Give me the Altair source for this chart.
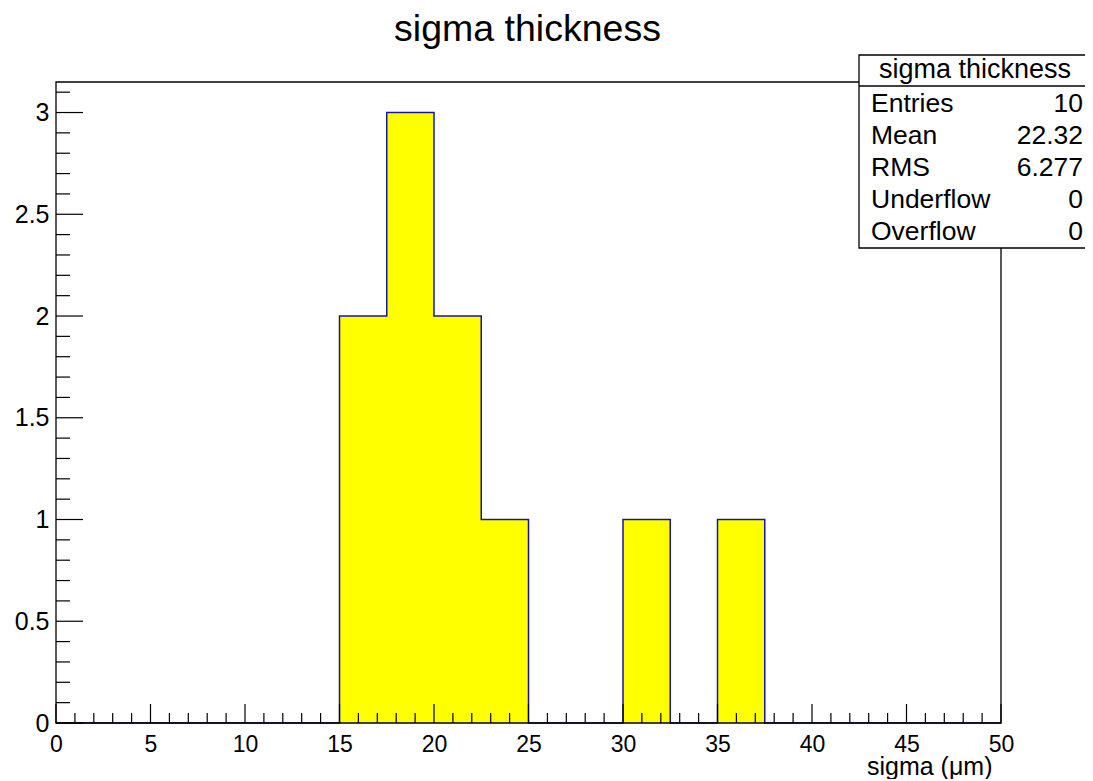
import altair as alt
import pandas as pd

# ---- data ----
bin_edges = [0, 2.5, 5, 7.5, 10, 12.5, 15, 17.5, 20, 22.5, 25,
             27.5, 30, 32.5, 35, 37.5, 40, 42.5, 45, 47.5, 50]
bin_counts = [0, 0, 0, 0, 0, 0, 2, 3, 2, 1, 0, 0, 1, 0, 1, 0, 0, 0, 0, 0]

x_major = [0, 5, 10, 15, 20, 25, 30, 35, 40, 45, 50]
y_major = [0, 0.5, 1, 1.5, 2, 2.5, 3]

stat_title = "sigma thickness"
stat_names = ["Entries", "Mean", "RMS", "Underflow", "Overflow"]
stat_values = ["10", "22.32", "6.277", "0", "0"]

title_text = "sigma thickness"
x_title = "sigma (\u03bcm)"

# ---- layout ----
W, H = 945, 641
FONT = "Liberation Sans"
LINE_BLUE = "#1414b4"

x_minor = [i for i in range(0, 51) if i % 5 != 0]
y_minor = [round(i / 10, 1) for i in range(0, 32) if i % 5 != 0]

hist = pd.DataFrame({"x": bin_edges, "n": bin_counts + [bin_counts[-1]]})

xs = alt.Scale(domain=[0, 50], nice=False, zero=False)
ys = alt.Scale(domain=[0, 3.15], nice=False, zero=False)

area = alt.Chart(hist).mark_area(
    interpolate="step-after", color="#ffff00", opacity=1,
    line={"color": LINE_BLUE, "strokeWidth": 1.5},
).encode(
    x=alt.X("x:Q", scale=xs, axis=alt.Axis(
        values=x_major, ticks=False, tickSize=0, domain=False, grid=False,
        labelFont=FONT, labelFontSize=23, labelColor="black", labelPadding=10,
        labelFlush=False, labelOverlap=False,
        title=x_title, titleFont=FONT, titleFontSize=25, titleFontWeight="normal",
        titleColor="black", titleX=936, titleY=51, titleAlign="right",
        titleBaseline="alphabetic", titleAnchor="end")),
    y=alt.Y("n:Q", scale=ys, axis=alt.Axis(
        values=y_major, format="~g", ticks=False, tickSize=0, domain=False, grid=False,
        labelFont=FONT, labelFontSize=25, labelColor="black", labelPadding=7,
        title=None)),
)

def xticks(vals, length):
    return alt.Chart(pd.DataFrame({"v": vals})).mark_rule(color="black", strokeWidth=1.2).encode(
        x=alt.X("v:Q", scale=xs), y=alt.value(H), y2=alt.value(H - length))

def yticks(vals, length):
    return alt.Chart(pd.DataFrame({"v": vals})).mark_rule(color="black", strokeWidth=1.2).encode(
        y=alt.Y("v:Q", scale=ys), x=alt.value(0), x2=alt.value(length))

one = pd.DataFrame({"a": [0]})

frame = alt.Chart(one).mark_rect(fill=None, stroke="black", strokeWidth=1.3).encode(
    x=alt.value(0), x2=alt.value(W), y=alt.value(0), y2=alt.value(H))

box = alt.Chart(one).mark_rect(fill="white", stroke="black", strokeWidth=1.3).encode(
    x=alt.value(803), x2=alt.value(1045), y=alt.value(-27), y2=alt.value(166))
sep = alt.Chart(one).mark_rule(color="black", strokeWidth=1.3).encode(
    x=alt.value(803), x2=alt.value(1045), y=alt.value(4))

stats = pd.DataFrame({"head": [stat_title],
                      "names": ["\n".join(stat_names)],
                      "vals": ["\n".join(stat_values)],
                      "title": [title_text]})
title_txt = alt.Chart(stats).mark_text(font=FONT, fontSize=37.5, color="black",
                                       align="center", baseline="alphabetic").encode(
    text="title:N", x=alt.value(W / 2 - 1), y=alt.value(-41))
head_txt = alt.Chart(stats).mark_text(font=FONT, fontSize=27, color="black",
                                      align="center", baseline="middle").encode(
    text="head:N", x=alt.value(919), y=alt.value(-12))
name_txt = alt.Chart(stats).mark_text(font=FONT, fontSize=26.5, color="black", align="left",
                                      baseline="alphabetic", lineBreak="\n", lineHeight=32).encode(
    text="names:N", x=alt.value(815), y=alt.value(30))
val_txt = alt.Chart(stats).mark_text(font=FONT, fontSize=26.5, color="black", align="right",
                                     baseline="alphabetic", lineBreak="\n", lineHeight=32).encode(
    text="vals:N", x=alt.value(1027), y=alt.value(30))

chart = alt.layer(
    area,
    xticks(x_minor, 10), xticks(x_major, 19),
    yticks(y_minor, 14), yticks(y_major, 27),
    frame, box, sep, title_txt, head_txt, name_txt, val_txt,
).properties(
    width=W, height=H,
    autosize=alt.AutoSizeParams(type="none"),
    padding={"left": 48, "top": 74, "right": 84, "bottom": 56},
).configure(
    background="white"
).configure_view(
    stroke=None
)

chart.save("out.html", embed_options={"renderer": "svg", "actions": False})
